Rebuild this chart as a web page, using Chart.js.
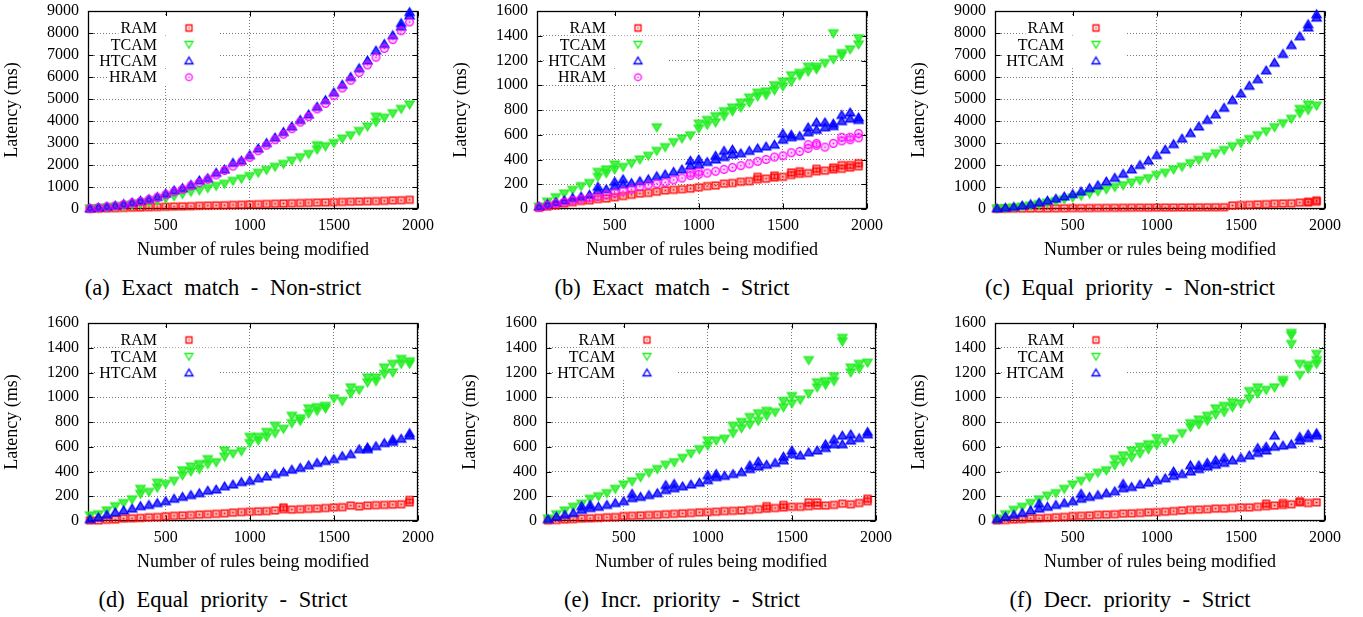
<!DOCTYPE html>
<html><head><meta charset="utf-8">
<script src="https://cdn.jsdelivr.net/npm/chart.js@4/dist/chart.umd.min.js"></script>
<style>
body{margin:0;background:#fff;width:1363px;height:617px;position:relative;overflow:hidden;font-family:'Liberation Serif',serif;}
canvas{position:absolute;}
.cap{position:absolute;font-family:'Liberation Serif',serif;font-size:22.5px;line-height:26px;white-space:nowrap;transform:translateX(-50%);word-spacing:6px;color:#000;}
</style></head><body>
<script>
// ---------- DATA ----------
const xRules = [50,100,150,200,250,300,350,400,450,500,550,600,650,700,750,800,850,900,950,1000,1050,1100,1150,1200,1250,1300,1350,1400,1450,1500,1550,1600,1650,1700,1750,1800,1850,1900,1950];
const xTickValues = [500,1000,1500,2000];

// (a) Exact match - Non-strict
const ramA   = [10,18,30,38,50,62,70,82,90,100,112,120,130,145,155,165,172,185,195,210,218,230,240,250,262,270,280,292,300,310,322,330,340,352,360,372,390,400,420];
const tcamA  = [20,40,70,110,150,200,260,320,400,480,580,680,780,850,950,1050,1150,1280,1380,1500,1650,1780,1920,2050,2200,2350,2500,2700,2850,3000,3200,3350,3550,3750,3950,4150,4350,4550,4750];
const htcamA = [30,70,110,160,230,300,380,450,550,700,850,950,1100,1300,1400,1650,1800,2100,2200,2450,2750,3000,3250,3500,3750,4050,4300,4650,4950,5300,5650,6000,6400,6750,7200,7500,7900,8300,8800];
const hramA  = [25,60,100,140,200,270,340,430,530,650,780,900,1050,1200,1350,1550,1750,1950,2150,2350,2650,2900,3150,3400,3650,3950,4200,4550,4800,5150,5500,5850,6200,6550,6900,7300,7700,8100,8500];
const tcamAExtra  = [[1400,2900],[1750,4200]];
const htcamAExtra = [[1900,8450],[1950,8950]];

// (b) Exact match - Strict
const ramB   = [10,20,30,45,55,65,70,80,85,95,105,115,125,130,140,150,155,160,165,175,185,190,205,210,220,225,240,245,255,260,275,285,290,305,310,320,325,335,345];
const tcamB  = [20,60,95,125,155,185,210,260,290,320,340,370,400,430,470,500,540,570,595,650,680,700,750,790,820,860,910,920,960,990,1030,1080,1110,1130,1180,1210,1240,1290,1330];
const htcamB = [20,40,55,70,90,100,115,150,160,185,200,210,225,240,265,280,300,320,350,360,380,400,420,440,450,470,490,505,520,560,580,590,620,640,660,670,710,730,740];
const hramB  = [15,30,45,55,70,80,90,100,115,130,145,160,180,195,205,215,235,250,270,280,290,305,320,335,350,365,385,400,420,430,455,465,490,515,500,530,550,560,575];
const ramBExtra   = [[1350,260],[1450,270],[1550,295],[1600,305],[1700,325],[1800,335],[1850,355],[1900,355],[1950,370]];
const tcamBExtra  = [[400,300],[450,320],[500,360],[750,660],[1000,690],[1050,720],[1100,750],[1150,790],[1200,820],[1250,860],[1300,900],[1350,940],[1400,950],[1450,1000],[1500,1030],[1550,1080],[1600,1100],[1650,1150],[1700,1150],[1800,1420],[1850,1260],[1950,1380]];
const htcamBExtra = [[400,180],[500,220],[550,240],[950,390],[1000,400],[1100,430],[1150,470],[1200,480],[1500,610],[1550,600],[1650,660],[1700,700],[1750,700],[1800,690],[1850,760],[1900,780],[1950,720]];
const hramBExtra  = [[950,290],[1000,300],[1650,520],[1700,530],[1850,580],[1900,580],[1950,610]];

// (c) Equal priority - Non-strict
const ramC   = [10,15,18,22,25,28,30,33,36,40,42,45,48,50,52,55,58,60,62,65,66,68,70,72,74,76,78,80,160,180,190,210,220,240,250,260,290,300,330];
const tcamC  = [20,40,70,110,160,220,290,360,440,520,600,700,800,900,1000,1080,1200,1300,1400,1550,1650,1800,1920,2080,2230,2380,2530,2680,2850,3000,3180,3350,3530,3720,3900,4100,4350,4500,4700];
const htcamC = [30,60,100,160,220,300,380,470,570,680,800,950,1080,1250,1420,1600,1800,2000,2200,2450,2700,2950,3200,3450,3750,4050,4300,4600,4950,5250,5600,5900,6300,6650,7050,7450,7850,8250,8700];
const ramCExtra   = [[1900,330],[1950,390]];
const tcamCExtra  = [[1850,4550],[1900,4750]];
const htcamCExtra = [[1900,8400],[1950,8850]];

// (d) Equal priority - Strict
const ramD   = [5,5,10,12,20,22,25,30,32,38,42,45,48,52,55,58,62,68,72,75,78,80,85,95,92,95,98,100,105,110,112,125,118,125,128,130,132,135,150];
const tcamD  = [45,55,85,120,145,175,220,235,270,300,325,370,400,420,460,475,520,545,565,630,650,680,710,745,790,810,870,890,910,990,970,1030,1060,1120,1130,1190,1200,1270,1270];
const htcamD = [15,30,50,70,85,100,120,130,145,160,180,195,210,225,245,255,280,295,315,325,345,360,380,395,415,430,450,470,485,500,525,540,580,595,605,630,640,665,690];
const ramDExtra   = [[1200,110],[1950,170]];
const tcamDExtra  = [[350,260],[450,310],[600,410],[650,440],[700,460],[750,500],[850,570],[1000,680],[1050,680],[1100,720],[1150,770],[1250,850],[1300,830],[1350,910],[1400,920],[1450,930],[1600,1080],[1700,1160],[1750,1160],[1800,1240],[1850,1270],[1900,1310],[1950,1290]];
const htcamDExtra = [[1700,580],[1850,660],[1950,710]];

// (e) Incr. priority - Strict
const ramE   = [5,8,12,15,20,22,25,30,32,40,42,45,48,50,55,58,62,65,70,72,75,80,82,85,90,95,100,105,110,115,115,120,125,125,130,140,135,145,160];
const tcamE  = [20,55,85,115,140,180,200,225,260,295,320,355,390,420,455,475,510,545,580,610,650,665,710,750,780,810,850,880,920,950,980,1030,1080,1100,1130,1450,1200,1230,1280];
const htcamE = [15,35,50,65,90,105,115,130,145,160,185,195,210,225,250,265,280,295,310,330,355,365,380,395,420,440,455,470,490,540,530,555,570,590,620,620,650,670,700];
const ramEExtra   = [[1350,120],[1450,130],[1600,150],[1650,150],[1950,180]];
const tcamEExtra  = [[1000,650],[1150,770],[1200,800],[1250,840],[1300,870],[1350,890],[1450,970],[1500,1010],[1600,1300],[1650,1120],[1700,1130],[1750,1170],[1800,1480],[1850,1240],[1900,1270]];
const htcamEExtra = [[250,120],[300,130],[550,220],[750,290],[800,300],[1000,370],[1050,380],[1250,450],[1300,480],[1450,520],[1500,570],[1700,620],[1750,660],[1800,690],[1850,700],[1950,720]];

// (f) Decr. priority - Strict
const ramF   = [5,8,12,15,20,22,25,30,33,40,42,45,50,52,55,60,62,65,70,72,75,80,85,90,92,95,100,100,105,110,110,115,120,125,130,135,150,145,150];
const tcamF  = [20,55,90,115,145,175,205,225,260,295,325,355,390,410,450,480,515,545,580,615,640,665,710,760,780,810,860,880,920,950,990,1030,1060,1080,1120,1500,1180,1230,1270];
const htcamF = [15,35,50,65,85,100,115,130,145,160,180,195,210,225,240,265,275,295,310,330,345,365,380,400,420,440,455,470,490,510,530,550,570,600,610,620,650,670,690];
const ramFExtra   = [[1650,140],[1750,145],[1850,160]];
const tcamFExtra  = [[750,500],[800,530],[850,570],[900,600],[950,620],[1000,670],[1200,790],[1250,820],[1300,850],[1350,910],[1400,930],[1450,960],[1550,1050],[1600,1080],[1750,1140],[1800,1430],[1800,1520],[1850,1270],[1900,1260],[1950,1350],[1950,1300]];
const htcamFExtra = [[300,140],[550,220],[800,300],[1100,400],[1200,450],[1250,450],[1300,470],[1350,490],[1400,510],[1600,590],[1650,600],[1700,690],[1850,680],[1900,700],[1950,710]];

const seriesNames = ['RAM','TCAM','HTCAM','HRAM'];
const captions = ['(a) Exact match - Non-strict','(b) Exact match - Strict','(c) Equal priority - Non-strict','(d) Equal priority - Strict','(e) Incr. priority - Strict','(f) Decr. priority - Strict'];
const xTitles = ['Number of rules being modified','Number of rules being modified','Number or rules being modified','Number of rules being modified','Number of rules being modified','Number of rules being modified'];
const yTitle = 'Latency (ms)';

// ---------- STYLE ----------
const COLORS = {RAM:'#ff0000', TCAM:'#22ee22', HTCAM:'#0000ff', HRAM:'#ff00ff'};
const SHAPES = {RAM:'square', TCAM:'down', HTCAM:'up', HRAM:'circle'};
const FONT = "'Liberation Serif', serif";

function makeMarker(shape, color, fillAlpha, s){
  const c = document.createElement('canvas'); c.width = 13; c.height = 13;
  const g = c.getContext('2d');
  g.translate(6.5, 6.5); g.scale(s, s);
  g.strokeStyle = color; g.fillStyle = color; g.lineWidth = 1.3 / s;
  g.beginPath();
  if (shape === 'square') g.rect(-3,-3,6,6);
  else if (shape === 'down') { g.moveTo(-4,-3); g.lineTo(4,-3); g.lineTo(0,3.7); g.closePath(); }
  else if (shape === 'up') { g.moveTo(0,-3.7); g.lineTo(4,3); g.lineTo(-4,3); g.closePath(); }
  else g.arc(0,0,3.3,0,Math.PI*2);
  if (fillAlpha) { g.globalAlpha = fillAlpha; g.fill(); g.globalAlpha = 1; }
  g.stroke();
  if (shape === 'square' || shape === 'circle') g.fillRect(-0.7,-0.7,1.4,1.4);
  return c;
}
const FILL = {RAM:0.3, TCAM:0.8, HTCAM:0.75, HRAM:0.15};
const dataMarkers = {}, legendMarkers = {};
seriesNames.forEach(n => { dataMarkers[n] = makeMarker(SHAPES[n], COLORS[n], FILL[n], 1.15); legendMarkers[n] = makeMarker(SHAPES[n], COLORS[n], 0, 1); });

const panels = [
  {left:88,  top:11,  ymax:9000, ystep:1000, series:{RAM:[ramA,[]],TCAM:[tcamA,tcamAExtra],HTCAM:[htcamA,htcamAExtra],HRAM:[hramA,[]]}, capX:223, capY:288},
  {left:537, top:11,  ymax:1600, ystep:200,  series:{RAM:[ramB,ramBExtra],TCAM:[tcamB,tcamBExtra],HTCAM:[htcamB,htcamBExtra],HRAM:[hramB,hramBExtra]}, capX:672, capY:288},
  {left:995, top:11,  ymax:9000, ystep:1000, series:{RAM:[ramC,ramCExtra],TCAM:[tcamC,tcamCExtra],HTCAM:[htcamC,htcamCExtra]}, capX:1130, capY:288},
  {left:88,  top:323, ymax:1600, ystep:200,  series:{RAM:[ramD,ramDExtra],TCAM:[tcamD,tcamDExtra],HTCAM:[htcamD,htcamDExtra]}, capX:223, capY:600},
  {left:546, top:323, ymax:1600, ystep:200,  series:{RAM:[ramE,ramEExtra],TCAM:[tcamE,tcamEExtra],HTCAM:[htcamE,htcamEExtra]}, capX:682, capY:600},
  {left:995, top:323, ymax:1600, ystep:200,  series:{RAM:[ramF,ramFExtra],TCAM:[tcamF,tcamFExtra],HTCAM:[htcamF,htcamFExtra]}, capX:1130, capY:600}
];

const PLOT_W = 330, PLOT_H = 198, Y_W = 88, X_H = 54, PAD_T = 11, PAD_R = 24;

const framePlugin = {
  id:'frame',
  beforeDatasetsDraw(chart){
    const {ctx, chartArea:a, scales} = chart;
    ctx.save();
    ctx.strokeStyle = '#000'; ctx.lineWidth = 1;
    const L = a.left + 0.5, R = a.right - 0.5, T = a.top + 0.5, B = a.bottom - 0.5, tl = 5;
    ctx.beginPath();
    scales.y.ticks.forEach(t => { const y = Math.round(scales.y.getPixelForValue(t.value)) + 0.5;
      ctx.moveTo(L, y); ctx.lineTo(L + tl, y); ctx.moveTo(R, y); ctx.lineTo(R - tl, y); });
    scales.x.ticks.forEach(t => { const x = Math.round(scales.x.getPixelForValue(t.value)) + 0.5;
      ctx.moveTo(x, B); ctx.lineTo(x, B - tl); ctx.moveTo(x, T); ctx.lineTo(x, T + tl); });
    ctx.stroke();
    ctx.lineWidth = 1.3;
    ctx.strokeRect(L, T, R - L, B - T);
    ctx.restore();
  },
  afterDatasetsDraw(chart){
    const {ctx, chartArea:a} = chart;
    const names = chart.options.plugins.frame.names;
    ctx.save();
    ctx.font = '16px ' + FONT;
    ctx.textAlign = 'right'; ctx.textBaseline = 'middle';
    names.forEach((n, i) => {
      const cy = a.top + 17 + i * 16.4;
      const w = ctx.measureText(n).width;
      const tx = a.left + 69;
      ctx.fillStyle = '#fff';
      const top = i === 0 ? cy - 12 : cy - 8.2;
      ctx.fillRect(tx - w - 2, top, (a.left + 132) - (tx - w - 2), cy + 7.4 - top);
      ctx.fillStyle = '#000';
      ctx.fillText(n, tx, cy + 1);
      ctx.drawImage(legendMarkers[n], a.left + 101 - 6.5, cy - 6.5);
    });
    ctx.restore();
  }
};

panels.forEach((p, idx) => {
  const cv = document.createElement('canvas');
  const W = Y_W + PLOT_W + PAD_R, H = PAD_T + PLOT_H + X_H;
  cv.width = W; cv.height = H;
  cv.style.left = (p.left - Y_W) + 'px'; cv.style.top = (p.top - PAD_T) + 'px';
  cv.style.width = W + 'px'; cv.style.height = H + 'px';
  document.body.appendChild(cv);

  const names = Object.keys(p.series);
  const datasets = names.map((n, k) => {
    const [main, extra] = p.series[n];
    const pts = xRules.map((x, i) => ({x, y: main[i]})).concat(extra.map(([x, y]) => ({x, y})));
    return {label:n, data:pts, pointStyle:dataMarkers[n], pointRadius:4, borderColor:COLORS[n], backgroundColor:COLORS[n], showLine:false, clip:false, order: names.length - k};
  });

  new Chart(cv, {
    type:'scatter',
    data:{datasets},
    options:{
      responsive:false, animation:false, devicePixelRatio:1,
      layout:{padding:{top:PAD_T, right:PAD_R, left:0, bottom:0}},
      plugins:{legend:{display:false}, tooltip:{enabled:false}, frame:{names}},
      scales:{
        x:{type:'linear', min:38, max:2000,
          afterBuildTicks(s){ s.ticks = xTickValues.map(v => ({value:v})); },
          afterFit(s){ s.height = X_H; s.paddingLeft = 0; s.paddingRight = 0; },
          ticks:{color:'#000', font:{family:FONT, size:16}, padding:7, maxRotation:0, autoSkip:false, callback:v => String(v)},
          grid:{color:'#777', lineWidth:1, drawTicks:false},
          border:{display:false, dash:[1,2]},
          title:{display:true, text:xTitles[idx], color:'#000', font:{family:FONT, size:18}, padding:{top:0, bottom:2}}
        },
        y:{type:'linear', min:0, max:p.ymax,
          afterFit(s){ s.width = Y_W; s.paddingTop = 0; s.paddingBottom = 0; },
          ticks:{stepSize:p.ystep, color:'#000', font:{family:FONT, size:16}, padding:9, autoSkip:false, callback:v => String(v)},
          grid:{color:'#777', lineWidth:1, drawTicks:false},
          border:{display:false, dash:[1,2]},
          title:{display:true, text:yTitle, color:'#000', font:{family:FONT, size:18}, padding:{top:1, bottom:0}}
        }
      }
    },
    plugins:[framePlugin]
  });

  const cap = document.createElement('div');
  cap.className = 'cap'; cap.textContent = captions[idx];
  cap.style.left = p.capX + 'px'; cap.style.top = (p.capY - 13) + 'px';
  document.body.appendChild(cap);
});
</script>
</body></html>
